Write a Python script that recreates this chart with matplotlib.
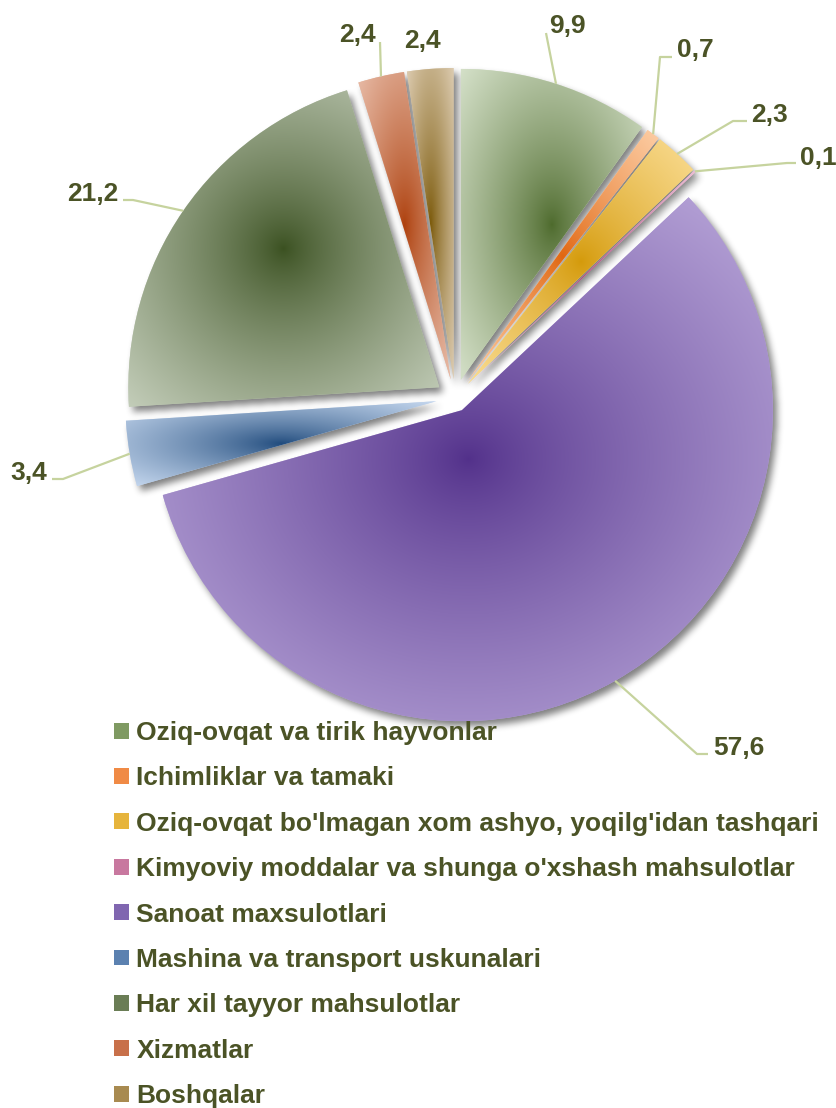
import numpy as np
import matplotlib
matplotlib.use('Agg')
import matplotlib.pyplot as plt
from matplotlib.colors import to_rgb
from matplotlib.patches import Patch

plt.rcParams['font.family'] = ['Liberation Sans', 'DejaVu Sans']

# data
categories = ["Oziq-ovqat va tirik hayvonlar",
              "Ichimliklar va tamaki",
              "Oziq-ovqat bo'lmagan xom ashyo, yoqilg'idan tashqari",
              "Kimyoviy moddalar va shunga o'xshash mahsulotlar",
              "Sanoat maxsulotlari",
              "Mashina va transport uskunalari",
              "Har xil tayyor mahsulotlar",
              "Xizmatlar",
              "Boshqalar"]
values = [9.9, 0.7, 2.3, 0.1, 57.6, 3.4, 21.2, 2.4, 2.4]

# style
dark_colors = ['#4d6a2c', '#e0650f', '#d49a0a', '#a8457a', '#52308a',
               '#1f4a7c', '#3a5020', '#ad3f0c', '#7a5808']
light_colors = ['#d4e0c8', '#fdcda4', '#fadc92', '#ebbdd4', '#bcaadc',
                '#c6d8ef', '#c3cdb9', '#e8bca8', '#dccbb0']
mid_colors = ['#7f9a62', '#f08a45', '#e6b43c', '#c8789f', '#8066b0',
              '#5b81b0', '#6a7d55', '#c8704a', '#a88a50']
explode = [19, 19, 19, 19, 14, 19, 19, 19, 19]
text_color = '#4b5326'
line_color = '#c6d39e'

W, H = 836, 1108
fig = plt.figure(figsize=(W / 100, H / 100), dpi=100)
ax = fig.add_axes([0, 0, 1, 1])

wedges, _ = ax.pie(values, explode=explode, center=(455, H - 398), radius=311,
                   startangle=90, counterclock=False, colors=light_colors,
                   wedgeprops=dict(linewidth=0, zorder=2))

# gradient fill, centred on each slice's bounding box
for w, dk, lt in zip(wedges, dark_colors, light_colors):
    ext = w.get_path().get_extents()
    nx, ny = int(ext.width) + 2, int(ext.height) + 2
    xx, yy = np.meshgrid(np.linspace(-1, 1, nx), np.linspace(-1, 1, ny))
    t = np.clip(np.hypot(xx, yy) / np.sqrt(2), 0, 1) ** 0.8
    d, l = np.array(to_rgb(dk)), np.array(to_rgb(lt))
    img = d + (l - d) * t[..., None]
    im = ax.imshow(img, extent=(ext.x0, ext.x1, ext.y0, ext.y1), origin='lower',
                   aspect='auto', interpolation='bilinear', zorder=3)
    im.set_clip_path(w)

# soft drop shadow
GX, GY = np.meshgrid(np.arange(W) + 0.5, np.arange(H) + 0.5)
mask = np.zeros((H, W))
for w in wedges:
    dx, dy = GX - w.center[0], GY - w.center[1]
    ang = (np.degrees(np.arctan2(dy, dx)) - w.theta1) % 360
    mask[(dx ** 2 + dy ** 2 <= w.r ** 2) & (ang <= w.theta2 - w.theta1)] = 1


def blur1d(a, k, axis):
    a = np.moveaxis(a, axis, -1)
    p = np.pad(a, ((0, 0), (k + 1, k)))
    c = np.cumsum(p, axis=-1)
    return np.moveaxis((c[:, 2 * k + 1:] - c[:, :-2 * k - 1]) / (2 * k + 1), -1, axis)


for _ in range(3):
    mask = blur1d(blur1d(mask, 3, 0), 3, 1)
shadow = np.zeros((H, W, 4))
shadow[..., 3] = mask * 0.5
ax.imshow(shadow, extent=(4, W + 4, -5, H - 5), origin='lower', aspect='auto', zorder=1)

# value labels: (text x, baseline y, ha, leader points after the arc anchor) in pixels from top
label_layout = [
    (549, 33, 'left', [(546, 33)]),
    (677, 57, 'left', [(660, 57), (672, 57)]),
    (751, 122, 'left', [(733, 121), (747, 121)]),
    (800, 165, 'left', [(787, 163), (796, 163)]),
    (713, 755, 'left', [(697, 754), (708, 754)]),
    (47, 480, 'right', [(63, 479), (52, 479)]),
    (118, 201, 'right', [(133, 200), (123, 200)]),
    (376, 42, 'right', [(380, 42)]),
    (404, 48, 'left', []),
]
for w, v, (tx, ty, ha, pts) in zip(wedges, values, label_layout):
    if pts:
        mid = np.radians((w.theta1 + w.theta2) / 2)
        ax0 = w.center[0] + w.r * np.cos(mid)
        ay0 = w.center[1] + w.r * np.sin(mid)
        xs = [ax0] + [p[0] for p in pts]
        ys = [ay0] + [H - p[1] for p in pts]
        ax.plot(xs, ys, color=line_color, lw=1.6, zorder=4, solid_capstyle='butt')
    ax.text(tx, H - ty, f"{v:.1f}".replace('.', ','), ha=ha, va='baseline',
            fontsize=19, fontweight='bold', color=text_color, zorder=5)

handles = [Patch(facecolor=c, edgecolor='none') for c in mid_colors]
ax.legend(handles, categories, loc='upper left', bbox_to_anchor=(114, H - 721),
          bbox_transform=ax.transData, frameon=False,
          prop=dict(weight='bold', size=19), labelcolor=text_color,
          handlelength=0.55, handleheight=0.55, handletextpad=0.3,
          labelspacing=0.81, borderpad=0, borderaxespad=0)

ax.set_xlim(0, W)
ax.set_ylim(0, H)
ax.set_aspect('auto')
ax.axis('off')
fig.savefig('out.png', dpi=100)
